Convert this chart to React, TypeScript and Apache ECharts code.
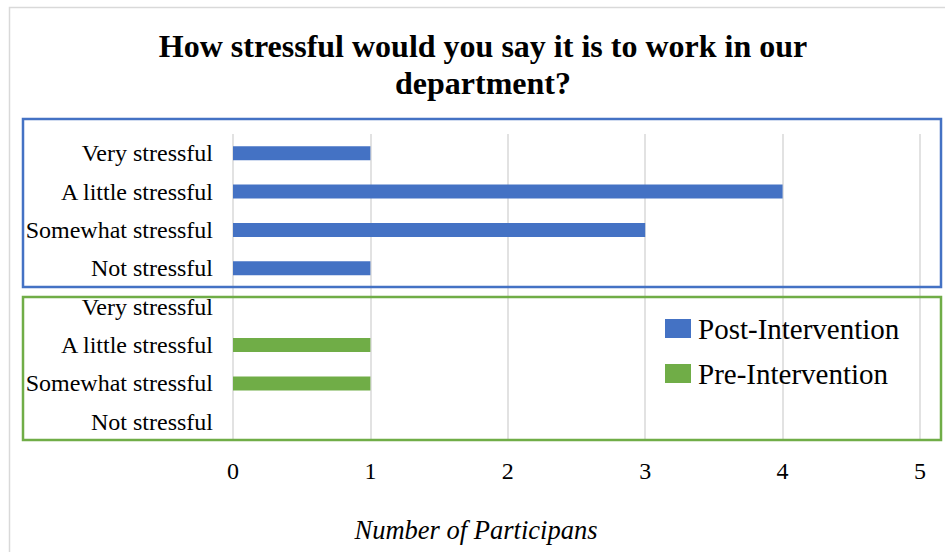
import React, { useEffect, useRef } from "react";
import * as echarts from "echarts";

const categories = [
  "Not stressful",
  "Somewhat stressful",
  "A little stressful",
  "Very stressful",
  "Not stressful",
  "Somewhat stressful",
  "A little stressful",
  "Very stressful",
];
// bottom 4 = Pre-Intervention group, top 4 = Post-Intervention group
const postValues: (number | null)[] = [null, null, null, null, 1, 3, 4, 1];
const preValues: (number | null)[] = [0, 1, 1, 0, null, null, null, null];
const xTicks = [0, 1, 2, 3, 4, 5];
const xAxisTitle = "Number of Participans";

const BLUE = "#4472C4";
const GREEN = "#70AD47";
const FONT = "'Liberation Serif', 'Times New Roman', serif";

export default function App() {
  const ref = useRef<HTMLDivElement>(null);
  useEffect(() => {
    if (!ref.current) return;
    const chart = echarts.init(ref.current, undefined, { renderer: "svg" });
    chart.setOption({
      animation: false,
      backgroundColor: "#ffffff",
      title: {
        text: "How stressful would you say it is to work in our\ndepartment?",
        left: 478,
        top: 22,
        textAlign: "center",
        textStyle: {
          fontFamily: FONT,
          fontWeight: "bold",
          fontSize: 32,
          lineHeight: 37,
          color: "#000",
        },
      },
      legend: {
        orient: "vertical",
        left: 660,
        top: 309,
        itemWidth: 26,
        itemHeight: 19,
        itemGap: 16,
        icon: "rect",
        data: ["Post-Intervention", "Pre-Intervention"],
        textStyle: { fontFamily: FONT, fontSize: 29, color: "#000", padding: [0, 0, 0, 2] },
      },
      grid: { left: 233, right: 25, top: 134, bottom: 111, containLabel: false },
      xAxis: {
        type: "value",
        min: 0,
        max: 5,
        interval: 1,
        axisLine: { show: false },
        axisTick: { show: false },
        axisLabel: {
          fontFamily: FONT,
          fontSize: 24,
          color: "#000",
          margin: 18,
          formatter: (v: number) => (xTicks.includes(v) ? String(v) : ""),
        },
        splitLine: { show: true, lineStyle: { color: "#d9d9d9", width: 1.5 } },
      },
      yAxis: {
        type: "category",
        data: categories,
        axisLine: { show: false },
        axisTick: { show: false },
        axisLabel: { fontFamily: FONT, fontSize: 24, color: "#000", margin: 20 },
      },
      series: [
        {
          name: "Post-Intervention",
          type: "bar",
          data: postValues,
          barWidth: 14,
          barGap: "-100%",
          itemStyle: { color: BLUE },
        },
        {
          name: "Pre-Intervention",
          type: "bar",
          data: preValues,
          barWidth: 14,
          itemStyle: { color: GREEN },
        },
      ],
      graphic: [
        {
          type: "rect",
          shape: { x: 9.5, y: 7.5, width: 1000, height: 700 },
          style: { fill: "none", stroke: "#d9d9d9", lineWidth: 1.5 },
          silent: true,
          z: 0,
        },
        {
          type: "rect",
          shape: { x: 23, y: 119, width: 918, height: 168 },
          style: { fill: "none", stroke: BLUE, lineWidth: 2.5 },
          silent: true,
          z: 10,
        },
        {
          type: "rect",
          shape: { x: 23, y: 297, width: 918, height: 143 },
          style: { fill: "none", stroke: GREEN, lineWidth: 2.5 },
          silent: true,
          z: 10,
        },
        {
          type: "text",
          x: 476,
          y: 530,
          style: {
            text: xAxisTitle,
            fontFamily: FONT,
            fontStyle: "italic",
            fontSize: 26.5,
            fill: "#000",
            textAlign: "center",
            textVerticalAlign: "middle",
          },
          silent: true,
          z: 10,
        },
      ],
    });
    return () => chart.dispose();
  }, []);
  return (
    <div
      ref={ref}
      style={{ position: "fixed", left: 0, top: 0, width: 945, height: 552 }}
    />
  );
}
